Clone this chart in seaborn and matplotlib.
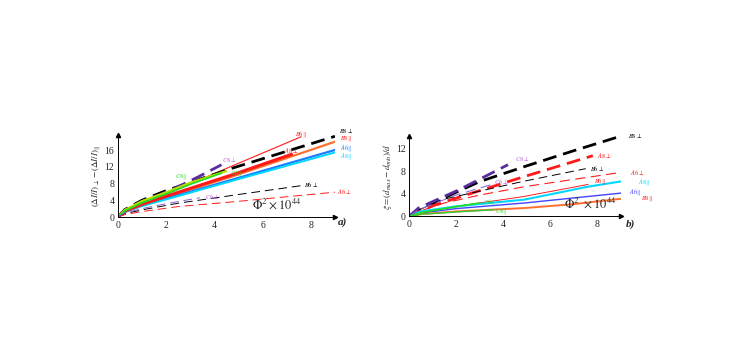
import numpy as np
import pandas as pd
import seaborn as sns
import matplotlib.pyplot as plt

# ---- panel a) : (dI/I)perp - (dI/I)par  vs  Phi^2 x 1e44
a_B8perp_x = [0, 0.3, 1, 2, 4.7, 9.0]
a_B8perp_y = [0, 1.8, 4.0, 6.3, 11.6, 19.3]
a_B6par_x = [0, 0.3, 1, 3, 4.9, 7.6]
a_B6par_y = [0, 1.5, 2.9, 7.9, 12.6, 19.2]
a_B8par_x = [0, 0.3, 1, 2.5, 4.9, 9.1]
a_B8par_y = [0, 1.4, 3.0, 5.6, 10.0, 18.2]
a_A8perp_x = [0, 0.3, 1, 2.5, 4.9, 7.2]
a_A8perp_y = [0, 1.4, 3.0, 5.9, 10.4, 15.0]
a_A6par_x = [0, 0.3, 1, 2.5, 4.9, 9.1]
a_A6par_y = [0, 1.3, 2.8, 5.2, 9.2, 16.2]
a_A8par_x = [0, 0.3, 1, 2.5, 4.9, 9.1]
a_A8par_y = [0, 1.2, 2.6, 5.0, 8.9, 15.6]
a_C8perp_x = [0, 0.3, 1, 2.2, 3.3, 4.3]
a_C8perp_y = [0, 1.6, 3.6, 6.4, 9.5, 12.5]
a_C8par_x = [0, 0.3, 1, 2, 3, 4.5]
a_C8par_y = [0, 1.7, 3.8, 5.9, 8.2, 11.0]
a_C6par_x = [0, 0.3, 1, 2, 3, 4.3]
a_C6par_y = [0, 1.5, 3.4, 5.5, 7.8, 10.5]
a_B6perp_x = [0, 0.3, 1, 2.5, 4.9, 7.6]
a_B6perp_y = [0, 0.8, 1.7, 3.3, 5.3, 7.5]
a_A6perp_x = [0, 0.3, 1, 2.5, 4.9, 9.1]
a_A6perp_y = [0, 0.6, 1.3, 2.5, 3.7, 6.0]
a_C6perp_x = [0, 0.3, 1, 2, 3.4]
a_C6perp_y = [0, 1.0, 2.0, 3.2, 4.6]

# ---- panel b) : xi = (dmax - dmin)/d
b_B8perp_x = [0, 0.5, 1, 2, 3, 5, 7, 9]
b_B8perp_y = [0, 1.3, 2.3, 4.3, 6.2, 9.0, 11.7, 14.3]
b_A8perp_x = [0, 0.5, 1, 2.4, 4.9, 7.8]
b_A8perp_y = [0, 1.0, 1.9, 3.8, 7.1, 10.8]
b_B6perp_x = [0, 0.5, 1.4, 4.8, 7.5]
b_B6perp_y = [0, 1.3, 3.0, 6.2, 8.5]
b_A6perp_x = [0, 0.5, 1.5, 3, 4.9, 9.1]
b_A6perp_y = [0, 1.0, 2.4, 3.8, 5.3, 7.9]
b_B6par_x = [0, 0.5, 2, 4.8, 7.6]
b_B6par_y = [0, 0.7, 1.8, 3.5, 5.7]
b_A8par_x = [0, 0.5, 2, 4.9, 7.6, 9.1]
b_A8par_y = [0, 0.9, 1.8, 3.0, 5.3, 6.3]
b_A6par_x = [0, 0.5, 2, 4.9, 9.1]
b_A6par_y = [0, 0.6, 1.4, 2.4, 4.2]
b_B8par_x = [0, 0.5, 2, 4.9, 7, 9.3]
b_B8par_y = [0, 0.4, 0.9, 1.5, 2.2, 3.3]
b_C8perp_x = [0, 0.4, 2.1, 4.2]
b_C8perp_y = [0, 1.5, 4.7, 9.2]
b_C6perp_x = [0, 0.4, 2, 3.6]
b_C6perp_y = [0, 1.2, 3.8, 5.8]
b_C6par_x = [0, 0.5, 1.5, 3.0]
b_C6par_y = [0, 0.7, 1.4, 2.4]
b_C8par_x = [0, 0.5, 2, 3.6]
b_C8par_y = [0, 0.4, 0.8, 1.2]

# cores e estilos
BLACK, RED, ORANGE = '#000000', '#ff1a1a', '#ff7030'
BLUE, CYAN = '#1a7cff', '#00d8ff'
INDIGO, ORCHID = '#5a2ca0', '#c060e0'
GREEN, YGREEN = '#22dd22', '#b8e000'

thick_dash = (0, (5, 2.5))
thin_dash = (0, (9, 5))

# (x, y, cor, lw, estilo, label, pos label, cor label)
curves_a = [
    (a_B6par_x, a_B6par_y, RED, 0.8, '-', r'$B6\Vert$', (7.6, 19.9), RED),
    (a_B8perp_x, a_B8perp_y, BLACK, 2.0, thick_dash, r'$B8\perp$', (9.45, 20.8), BLACK),
    (a_B8par_x, a_B8par_y, ORANGE, 1.6, '-', r'$B8\Vert$', (9.45, 18.7), RED),
    (a_A6par_x, a_A6par_y, BLUE, 1.6, '-', r'$A6\Vert$', (9.45, 16.6), BLUE),
    (a_A8par_x, a_A8par_y, CYAN, 1.4, '-', r'$A8\Vert$', (9.45, 14.5), CYAN),
    (a_A8perp_x, a_A8perp_y, RED, 2.2, '-', r'$A8\perp$', (7.2, 15.8), RED),
    (a_C8perp_x, a_C8perp_y, INDIGO, 2.0, thick_dash, r'$C8\perp$', (4.6, 13.7), ORCHID),
    (a_C8par_x, a_C8par_y, YGREEN, 1.6, '-', r'$C8\Vert$', (2.6, 9.6), GREEN),
    (a_C6par_x, a_C6par_y, GREEN, 1.2, '-', r'$C6\Vert$', (4.9, 10.6), GREEN),
    (a_B6perp_x, a_B6perp_y, BLACK, 0.7, thin_dash, r'$B6\perp$', (8.0, 7.7), BLACK),
    (a_A6perp_x, a_A6perp_y, RED, 0.7, thin_dash, r'$A6\perp$', (9.4, 6.0), RED),
    (a_C6perp_x, a_C6perp_y, '#8060d0', 0.7, thin_dash, r'$C6\perp$', (3.9, 5.0), ORCHID),
]

curves_b = [
    (b_B8perp_x, b_B8perp_y, BLACK, 2.0, thick_dash, r'$B8\perp$', (9.6, 14.4), BLACK),
    (b_A8perp_x, b_A8perp_y, RED, 2.0, thick_dash, r'$A8\perp$', (8.3, 10.8), RED),
    (b_B6perp_x, b_B6perp_y, BLACK, 0.7, thin_dash, r'$B6\perp$', (8.0, 8.5), BLACK),
    (b_A6perp_x, b_A6perp_y, RED, 0.8, thin_dash, r'$A6\perp$', (9.7, 7.9), RED),
    (b_B6par_x, b_B6par_y, RED, 0.7, '-', r'$B6\Vert$', (8.1, 6.3), RED),
    (b_A8par_x, b_A8par_y, CYAN, 1.5, '-', r'$A8\Vert$', (9.95, 6.2), CYAN),
    (b_A6par_x, b_A6par_y, '#4444ff', 1.0, '-', r'$A6\Vert$', (9.6, 4.4), '#4444ff'),
    (b_B8par_x, b_B8par_y, ORANGE, 1.4, '-', r'$B8\Vert$', (10.1, 3.2), RED),
    (b_C8perp_x, b_C8perp_y, INDIGO, 2.0, thick_dash, r'$C8\perp$', (4.8, 10.3), ORCHID),
    (b_C6perp_x, b_C6perp_y, '#9070d8', 0.8, thin_dash, r'$C6\perp$', (3.9, 6.2), ORCHID),
    (b_C6par_x, b_C6par_y, GREEN, 1.2, '-', r'$C6\Vert$', (3.4, 2.6), GREEN),
    (b_C8par_x, b_C8par_y, '#33cc33', 1.0, '-', r'$C8\Vert$', (3.9, 0.9), GREEN),
]

sns.set_style('white')
plt.rcParams['font.family'] = ['Liberation Serif', 'DejaVu Serif']
plt.rcParams['mathtext.fontset'] = 'stix'

fig = plt.figure(figsize=(7.29, 3.37), dpi=100)
ax_a = fig.add_axes([0.1615, 0.356, 0.298, 0.242])
ax_b = fig.add_axes([0.561, 0.3576, 0.291, 0.2388])


def draw_panel(ax, curves, ymax, yticks):
    for x, y, c, lw, ls, lab, pos, lc in curves:
        sns.lineplot(x=x, y=y, ax=ax, color=c, linewidth=lw, linestyle=ls,
                     sort=False, estimator=None)
        ax.text(pos[0], pos[1], lab, color=lc, fontsize=4.6, ha='center',
                va='center', clip_on=False)
    ax.set_xlim(0, 9.0)
    ax.set_ylim(0, ymax)
    ax.set_xticks([0, 2, 4, 6, 8])
    ax.set_yticks(yticks)
    ax.set_xticks(np.arange(0, 9.01, 0.5), minor=True)
    ax.set_yticks(np.arange(0, ymax, 1), minor=True)
    ax.tick_params(axis='both', which='major', direction='inout', length=3,
                   width=0.6, labelsize=7, pad=1)
    ax.tick_params(axis='both', which='minor', direction='inout', length=1.5,
                   width=0.5)
    for s in ['top', 'right']:
        ax.spines[s].set_visible(False)
    for s in ['left', 'bottom']:
        ax.spines[s].set_linewidth(0.7)
        ax.spines[s].set_color('black')
    # setas nos eixos
    ax.plot(0, 1, '^k', ms=3, transform=ax.transAxes, clip_on=False)
    ax.plot(1, 0, '>k', ms=3, transform=ax.transAxes, clip_on=False)
    ax.set_xlabel('')
    ax.set_ylabel('')


draw_panel(ax_a, curves_a, 19.5, [0, 4, 8, 12, 16])
draw_panel(ax_b, curves_b, 14.3, [0, 4, 8, 12])

# rótulos dos eixos
ax_a.set_ylabel(r'$(\Delta I/I)_{\perp}-(\Delta I/I)_{\Vert}$', fontsize=6.5, labelpad=1)
ax_b.set_ylabel(r'$\xi=(d_{max}-d_{min})/d$', fontsize=6.5, labelpad=1)

ax_a.text(6.6, 1.4, r'$\Phi^2\times10^{44}$', fontsize=9, ha='center', va='bottom')
ax_b.text(7.7, 1.0, r'$\Phi^2\ \times10^{44}$', fontsize=9, ha='center', va='bottom')

ax_a.text(9.3, -1.3, 'a)', fontsize=8, style='italic', weight='bold',
          ha='center', va='center', clip_on=False)
ax_b.text(9.4, -1.3, 'b)', fontsize=8, style='italic', weight='bold',
          ha='center', va='center', clip_on=False)

fig.savefig('out.png', dpi=100)
